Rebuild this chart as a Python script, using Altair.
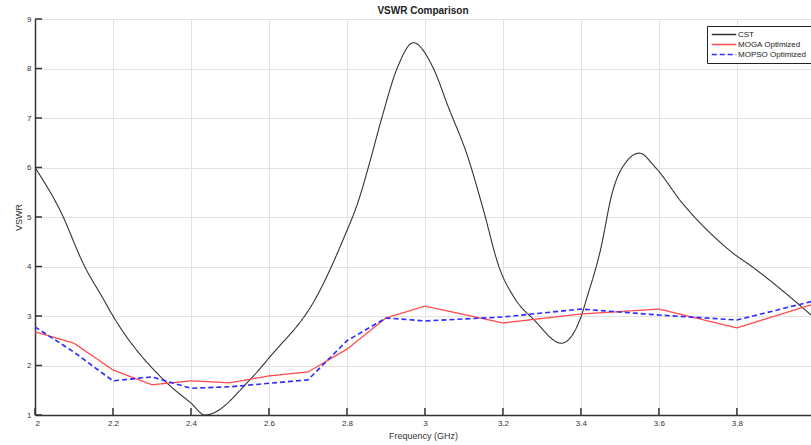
import altair as alt
import pandas as pd

series_names = ["CST", "MOGA Optimized", "MOPSO Optimized"]
series_colors = ["#333333", "#ff4d4d", "#2b2bff"]

cst_freq = [2.0, 2.064, 2.128, 2.174, 2.2, 2.33, 2.40, 2.436, 2.551, 2.603, 2.72, 2.79, 2.83, 2.86,
            2.89, 2.93, 2.97, 3.02, 3.06, 3.11, 3.15, 3.19, 3.23, 3.28, 3.35, 3.40, 3.415,
            3.45, 3.48, 3.52, 3.55, 3.59, 3.66, 3.75, 3.79, 3.84, 3.94, 3.99]
cst_vswr = [6.0, 5.14, 3.99, 3.36, 3.0, 1.71, 1.24, 1.0, 1.71, 2.18, 3.36, 4.54, 5.34, 6.15,
            7.02, 8.03, 8.52, 8.03, 7.22, 6.21, 5.14, 3.99, 3.36, 2.92, 2.45, 2.98, 3.36,
            4.33, 5.48, 6.15, 6.29, 6.01, 5.28, 4.54, 4.27, 3.99, 3.36, 3.02]

moga_freq = [2.0, 2.1, 2.2, 2.3, 2.4, 2.5, 2.6, 2.7, 2.8, 2.9, 3.0, 3.2, 3.4, 3.6, 3.8, 4.0]
moga_vswr = [2.68, 2.45, 1.91, 1.61, 1.69, 1.65, 1.79, 1.87, 2.33, 2.96, 3.2, 2.86, 3.04, 3.14, 2.76, 3.25]

mopso_freq = [2.0, 2.1, 2.2, 2.3, 2.4, 2.5, 2.6, 2.7, 2.8, 2.9, 3.0, 3.2, 3.4, 3.6, 3.8, 4.0]
mopso_vswr = [2.78, 2.27, 1.69, 1.77, 1.54, 1.57, 1.64, 1.71, 2.5, 2.96, 2.90, 2.98, 3.14, 3.02, 2.92, 3.31]

x_ticks = [2.0, 2.2, 2.4, 2.6, 2.8, 3.0, 3.2, 3.4, 3.6, 3.8]
y_ticks = [1, 2, 3, 4, 5, 6, 7, 8, 9]

rows = []
for f, v in zip(cst_freq, cst_vswr):
    rows.append({"freq": f, "vswr": v, "series": "CST"})
for f, v in zip(moga_freq, moga_vswr):
    rows.append({"freq": f, "vswr": v, "series": "MOGA Optimized"})
for f, v in zip(mopso_freq, mopso_vswr):
    rows.append({"freq": f, "vswr": v, "series": "MOPSO Optimized"})
df = pd.DataFrame(rows)

W, H = 776, 396

xscale = alt.Scale(domain=[2, 3.99], nice=False, zero=False)
yscale = alt.Scale(domain=[1, 9], nice=False, zero=False)

x_enc = alt.X("freq:Q", scale=xscale,
              axis=alt.Axis(values=x_ticks, format="~g", title="Frequency (GHz)",
                            labelPadding=4, titlePadding=4))
y_enc = alt.Y("vswr:Q", scale=yscale,
              axis=alt.Axis(values=y_ticks, format="d", title="VSWR",
                            labelPadding=4, titlePadding=3))


def make_legend():
    return alt.Legend(title=None, orient="none", legendX=672, legendY=7,
                      symbolType="stroke", symbolSize=600, clipHeight=9,
                      symbolStrokeWidth=1.5, labelFontSize=8,
                      labelFont="Liberation Sans", labelColor="#222",
                      labelOffset=1, rowPadding=1, padding=4,
                      strokeColor="#222", fillColor="white", labelLimit=200)


color_enc = alt.Color("series:N", scale=alt.Scale(domain=series_names, range=series_colors),
                      legend=make_legend())
dash_enc = alt.StrokeDash("series:N",
                          scale=alt.Scale(domain=series_names, range=[[1, 0], [1, 0], [5, 3]]),
                          legend=make_legend())

cst = alt.Chart(df).transform_filter(alt.datum.series == "CST").mark_line(
    clip=True, interpolate="monotone", strokeWidth=1.1
).encode(x=x_enc, y=y_enc, color=color_enc, strokeDash=dash_enc, order="freq:Q")

moga = alt.Chart(df).transform_filter(alt.datum.series == "MOGA Optimized").mark_line(
    clip=True, strokeWidth=1.3
).encode(x=x_enc, y=y_enc, color=color_enc, strokeDash=dash_enc, order="freq:Q")

mopso = alt.Chart(df).transform_filter(alt.datum.series == "MOPSO Optimized").mark_line(
    clip=True, strokeWidth=1.6
).encode(x=x_enc, y=y_enc, color=color_enc, strokeDash=dash_enc, order="freq:Q")

xt = pd.DataFrame({"freq": x_ticks})
yt = pd.DataFrame({"vswr": y_ticks})
xtick_layer = alt.Chart(xt).mark_rule(color="#333", strokeWidth=1.5).encode(
    x=alt.X("freq:Q", scale=xscale), y=alt.value(H), y2=alt.value(H - 7))
ytick_layer = alt.Chart(yt).mark_rule(color="#333", strokeWidth=1.5).encode(
    y=alt.Y("vswr:Q", scale=yscale), x=alt.value(0), x2=alt.value(7))

chart = alt.layer(cst, moga, mopso, xtick_layer, ytick_layer).properties(
    width=W, height=H,
    title=alt.TitleParams("VSWR Comparison", fontSize=10, fontWeight="bold",
                          font="Liberation Sans", color="#222", offset=-1, anchor="middle"),
    autosize=alt.AutoSizeParams(type="none"),
    padding={"left": 35, "top": 19, "right": 0, "bottom": 30},
).configure_view(stroke=None).configure_axis(
    grid=True, gridColor="#e2e2e2", gridWidth=1, domainColor="#333", domainWidth=1.5,
    ticks=False, labelFont="Liberation Sans", labelFontSize=8, labelColor="#333",
    titleFont="Liberation Sans", titleFontSize=9, titleFontWeight="normal", titleColor="#333"
)

chart.save("out.html", embed_options={"renderer": "svg", "actions": False})
